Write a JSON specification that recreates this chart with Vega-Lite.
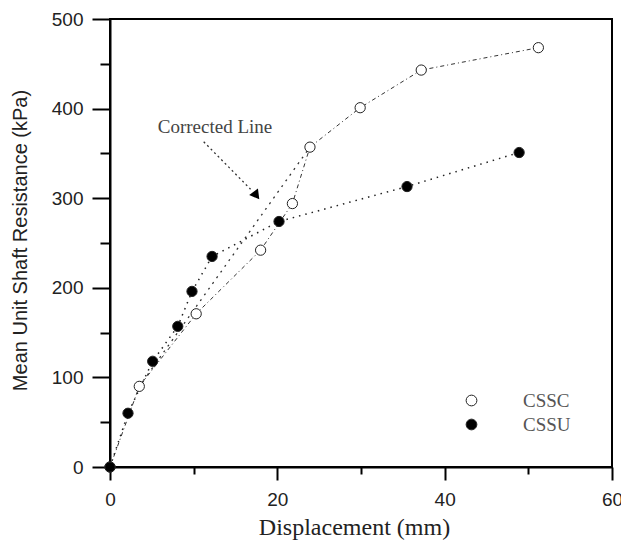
{
  "$schema": "https://vega.github.io/schema/vega-lite/v6.json",
  "width": 502,
  "height": 448,
  "autosize": {"type": "none"},
  "padding": {"left": 110, "top": 19, "right": 9, "bottom": 78},
  "background": "white",
  "config": {
    "view": {"stroke": "black", "strokeWidth": 2},
    "axis": {
      "grid": false,
      "domainColor": "black",
      "domainWidth": 2,
      "tickColor": "black",
      "tickWidth": 2,
      "labelFont": "Liberation Sans",
      "labelFontSize": 19,
      "labelColor": "#222"
    }
  },
  "data": {
    "values": [
      {"series": "CSSC", "i": 0, "d": 0, "r": 0},
      {"series": "CSSC", "i": 1, "d": 3.5, "r": 90},
      {"series": "CSSC", "i": 2, "d": 10.3, "r": 171},
      {"series": "CSSC", "i": 3, "d": 18.0, "r": 242},
      {"series": "CSSC", "i": 4, "d": 21.8, "r": 294},
      {"series": "CSSC", "i": 5, "d": 23.9, "r": 357},
      {"series": "CSSC", "i": 6, "d": 29.9, "r": 401},
      {"series": "CSSC", "i": 7, "d": 37.2, "r": 443},
      {"series": "CSSC", "i": 8, "d": 51.2, "r": 468},
      {"series": "CSSU", "i": 0, "d": 0, "r": 0},
      {"series": "CSSU", "i": 1, "d": 2.15, "r": 60},
      {"series": "CSSU", "i": 2, "d": 5.1, "r": 118},
      {"series": "CSSU", "i": 3, "d": 8.1, "r": 157},
      {"series": "CSSU", "i": 4, "d": 9.8, "r": 196},
      {"series": "CSSU", "i": 5, "d": 12.2, "r": 235},
      {"series": "CSSU", "i": 6, "d": 20.2, "r": 274},
      {"series": "CSSU", "i": 7, "d": 35.5, "r": 313},
      {"series": "CSSU", "i": 8, "d": 48.9, "r": 351},
      {"series": "Corrected", "i": 0, "d": 3.5, "r": 90},
      {"series": "Corrected", "i": 1, "d": 23.9, "r": 357},
      {"series": "Arrow", "i": 0, "d": 11.2, "r": 363},
      {"series": "Arrow", "i": 1, "d": 16.8, "r": 310},
      {"series": "ArrowHead", "i": 0, "d": 17.5, "r": 303},
      {"series": "Label", "i": 0, "d": 12.55, "r": 379, "text": "Corrected Line"}
    ]
  },
  "encoding": {
    "x": {
      "field": "d",
      "type": "quantitative",
      "scale": {"domain": [0, 60], "nice": false},
      "axis": {
        "title": "Displacement (mm)",
        "values": [0, 10, 20, 30, 40, 50, 60],
        "labelExpr": "datum.value % 20 === 0 ? datum.label : ''",
        "tickSize": {"condition": {"test": "datum.value % 20 === 0", "value": 13}, "value": 7},
        "labelPadding": 10,
        "labelFlush": false,
        "titleFont": "Liberation Serif",
        "titleFontSize": 24,
        "titleFontWeight": "normal",
        "titleColor": "#222",
        "titleX": 244,
        "titleY": 60,
        "titleBaseline": "middle",
        "titleAlign": "center"
      }
    },
    "y": {
      "field": "r",
      "type": "quantitative",
      "scale": {"domain": [0, 500], "nice": false},
      "axis": {
        "title": "Mean Unit Shaft Resistance (kPa)",
        "values": [0, 50, 100, 150, 200, 250, 300, 350, 400, 450, 500],
        "labelExpr": "datum.value % 100 === 0 ? datum.label : ''",
        "tickSize": {"condition": {"test": "datum.value % 100 === 0", "value": 18}, "value": 10},
        "labelPadding": 9,
        "labelFlush": false,
        "titleFont": "Liberation Sans",
        "titleFontSize": 20,
        "titleFontWeight": "normal",
        "titleColor": "#222",
        "titleX": -90,
        "titleY": 221,
        "titleAngle": -90,
        "titleBaseline": "middle",
        "titleAlign": "center"
      }
    }
  },
  "layer": [
    {
      "transform": [{"filter": "datum.series === 'CSSC'"}],
      "mark": {"type": "line", "color": "#333", "strokeWidth": 1, "strokeDash": [4, 3, 1, 3]},
      "encoding": {"order": {"field": "i", "type": "quantitative"}}
    },
    {
      "transform": [{"filter": "datum.series === 'CSSU'"}],
      "mark": {"type": "line", "color": "#222", "strokeWidth": 1.5, "strokeDash": [1.5, 5]},
      "encoding": {"order": {"field": "i", "type": "quantitative"}}
    },
    {
      "transform": [{"filter": "datum.series === 'Corrected'"}],
      "mark": {"type": "line", "color": "#333", "strokeWidth": 1.3, "strokeDash": [2, 5]},
      "encoding": {"order": {"field": "i", "type": "quantitative"}}
    },
    {
      "transform": [{"filter": "datum.series === 'Arrow'"}],
      "mark": {"type": "line", "color": "#333", "strokeWidth": 1.3, "strokeDash": [2, 3]},
      "encoding": {"order": {"field": "i", "type": "quantitative"}}
    },
    {
      "transform": [{"filter": "datum.series === 'ArrowHead'"}],
      "mark": {"type": "point", "shape": "triangle-up", "filled": true, "color": "#000", "opacity": 1, "size": 120, "angle": 143}
    },
    {
      "transform": [{"filter": "datum.series === 'CSSC' || datum.series === 'CSSU'"}],
      "mark": {"type": "point", "shape": "circle", "filled": true, "stroke": "#222", "strokeWidth": 1, "opacity": 1, "size": 105},
      "encoding": {
        "fill": {
          "field": "series",
          "type": "nominal",
          "scale": {"domain": ["CSSC", "CSSU"], "range": ["white", "black"]},
          "legend": {
            "title": null,
            "orient": "none",
            "legendX": 352,
            "legendY": 372,
            "padding": 0,
            "labelFont": "Liberation Serif",
            "labelFontSize": 19,
            "labelColor": "#555",
            "labelOffset": 42,
            "rowPadding": 4,
            "symbolType": "circle",
            "symbolSize": 115,
            "symbolStrokeColor": "#222",
            "symbolStrokeWidth": 1
          }
        }
      }
    },
    {
      "transform": [{"filter": "datum.series === 'Label'"}],
      "mark": {"type": "text", "font": "Liberation Serif", "fontSize": 19, "color": "#444", "align": "center", "baseline": "middle"},
      "encoding": {"text": {"field": "text"}}
    }
  ]
}
